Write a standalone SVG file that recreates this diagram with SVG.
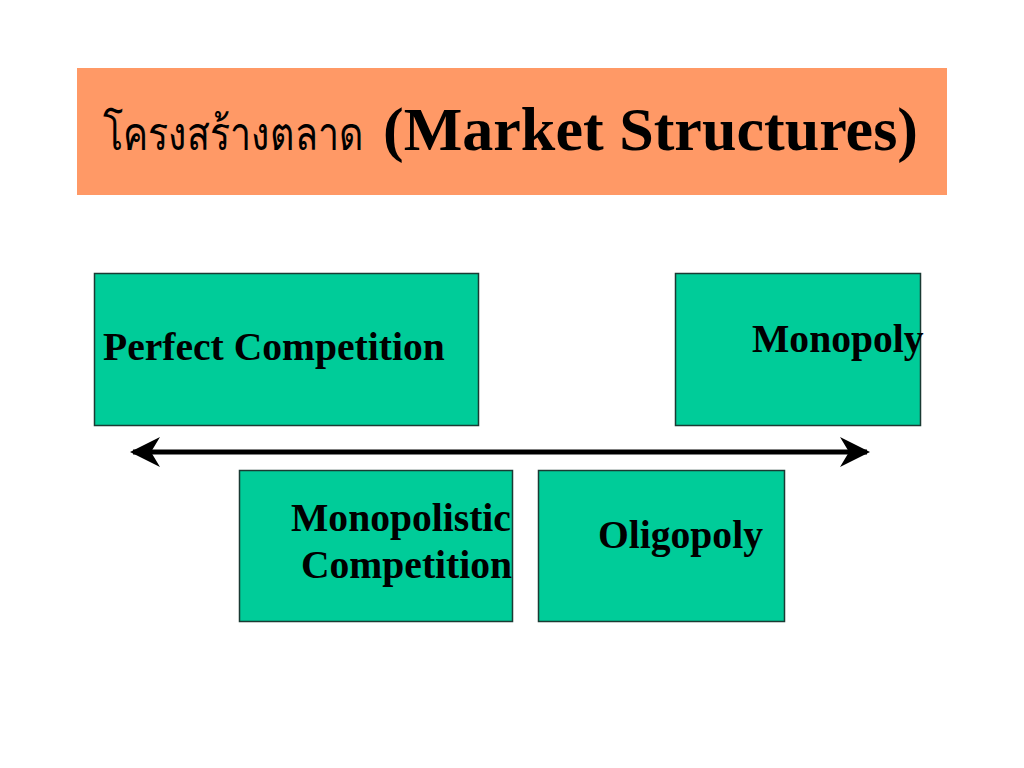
<svg xmlns="http://www.w3.org/2000/svg" width="1024" height="768" viewBox="0 0 1024 768">
<style>
.box{fill:#00CC99;stroke:#1a3a33;stroke-width:1.5}
.lbl{font-family:"Liberation Serif","Times New Roman",serif;font-weight:bold;font-size:39.6px;fill:#000}
.title{font-family:"Liberation Serif","Times New Roman",serif;fill:#000}
</style>
<defs>
<marker id="ah" viewBox="0 0 10 10" refX="9" refY="5" markerWidth="6" markerHeight="6" orient="auto-start-reverse" markerUnits="strokeWidth">
<path d="M0,0 L10,5 L0,10 L3,5 Z" fill="#000"/>
</marker>
</defs>
<rect width="1024" height="768" fill="#fff"/>
<g id="title">
<rect x="77" y="68" width="870" height="127" fill="#FF9966"/>
<text class="title" transform="translate(103,150) scale(1,1.25)" font-size="37.5">โครงสร้างตลาด</text>
<text class="title" x="383" y="150" font-size="62" font-weight="bold" textLength="535" lengthAdjust="spacingAndGlyphs">(Market Structures)</text>
</g>
<g id="connectors">
<line x1="133" y1="452" x2="867" y2="452" stroke="#000" stroke-width="5" marker-start="url(#ah)" marker-end="url(#ah)"/>
</g>
<g id="perfect">
<rect class="box" x="94.5" y="273.5" width="384" height="152"/>
<text class="lbl" x="103" y="360">Perfect Competition</text>
</g>
<g id="monopoly">
<rect class="box" x="675.5" y="273.5" width="245" height="152"/>
<text class="lbl" x="752" y="352">Monopoly</text>
</g>
<g id="monopolistic">
<rect class="box" x="239.5" y="470.5" width="273" height="151"/>
<text class="lbl" x="291" y="531">Monopolistic</text>
<text class="lbl" x="301" y="578">Competition</text>
</g>
<g id="oligopoly">
<rect class="box" x="538.5" y="470.5" width="246" height="151"/>
<text class="lbl" x="598" y="548">Oligopoly</text>
</g>
</svg>
